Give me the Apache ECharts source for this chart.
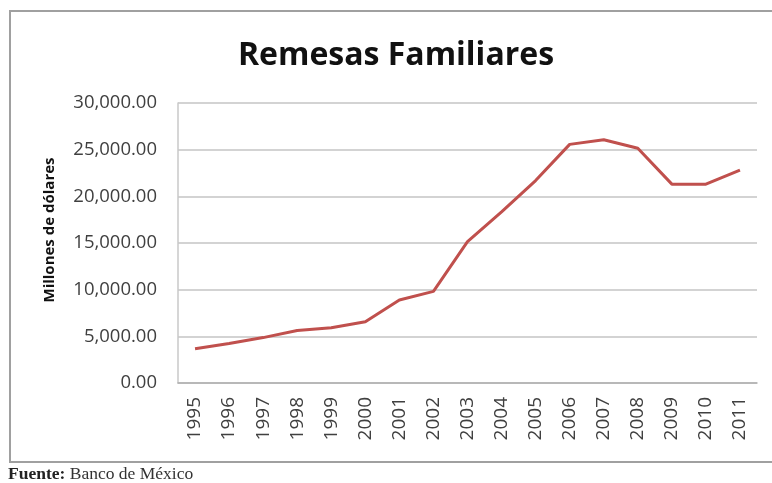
<!DOCTYPE html>
<html>
<head>
<meta charset="utf-8">
<script src="https://cdn.jsdelivr.net/npm/echarts@6/dist/echarts.min.js"></script>
<style>
  html, body { margin: 0; padding: 0; background: #fff; }
  #chart { width: 772px; height: 483px; }
</style>
</head>
<body>
<div id="chart"></div>
<script>
// años y remesas (millones de dólares)
const years = ['1995', '1996', '1997', '1998', '1999', '2000', '2001', '2002',
  '2003', '2004', '2005', '2006', '2007', '2008', '2009', '2010', '2011'];
const remesas = [3673, 4224, 4865, 5627, 5910, 6573, 8895, 9814,
  15139, 18332, 21688, 25567, 26059, 25145, 21306, 21304, 22803];
const yTicks = [0, 5000, 10000, 15000, 20000, 25000, 30000];

const chart = echarts.init(document.getElementById('chart'));

const fmt = function (v) {
  return v.toLocaleString('en-US', { minimumFractionDigits: 2, maximumFractionDigits: 2 });
};

const opts = {
  animation: false,
  backgroundColor: '#fff',
  title: {
    text: 'Remesas Familiares',
    left: 391,
    top: 35,
    textAlign: 'center',
    textStyle: {
      fontFamily: 'Open Sans',
      fontWeight: 'bold',
      fontSize: 32,
      color: '#111'
    }
  },
  graphic: [
    {
      type: 'rect',
      shape: { x: 10, y: 11, width: 780, height: 451 },
      style: { fill: 'none', stroke: '#a0a0a0', lineWidth: 2 }
    },
    {
      // título del eje Y
      type: 'text',
      x: 50,
      y: 230,
      rotation: Math.PI / 2,
      style: {
        text: 'Millones de dólares',
        fontFamily: 'Open Sans',
        fontWeight: 'bold',
        fontSize: 15,
        fill: '#111',
        align: 'center',
        verticalAlign: 'middle'
      }
    },
    {
      type: 'text',
      left: 8,
      top: 465,
      style: {
        text: '{b|Fuente:} Banco de México',
        rich: {
          b: { fontFamily: 'Liberation Serif', fontWeight: 'bold', fontSize: 17.5, fill: '#222' }
        },
        fontFamily: 'Liberation Serif',
        fontSize: 17.5,
        fill: '#333'
      }
    }
  ],
  grid: {
    left: 178,
    right: 15,
    top: 103,
    bottom: 100
  },
  xAxis: {
    type: 'category',
    data: years,
    boundaryGap: true,
    axisLine: { lineStyle: { color: '#b0b0b0', width: 1.5 } },
    axisTick: { show: false },
    axisLabel: {
      rotate: 90,
      margin: 14,
      fontFamily: 'Open Sans',
      fontSize: 19,
      color: '#404040'
    }
  },
  yAxis: {
    type: 'value',
    min: yTicks[0],
    max: yTicks[yTicks.length - 1],
    interval: 5000,
    axisLine: { show: true, lineStyle: { color: '#c8c8c8', width: 1.5 } },
    axisTick: { show: false },
    axisLabel: {
      margin: 21,
      fontFamily: 'Open Sans',
      fontSize: 18.5,
      color: '#404040',
      formatter: fmt
    },
    splitLine: { lineStyle: { color: '#c4c4c4', width: 1.5 } }
  },
  series: [
    {
      type: 'line',
      data: remesas,
      symbol: 'none',
      lineStyle: { color: '#c0504d', width: 3 },
      itemStyle: { color: '#c0504d' }
    }
  ]
};

chart.setOption(opts);
</script>
</body>
</html>
